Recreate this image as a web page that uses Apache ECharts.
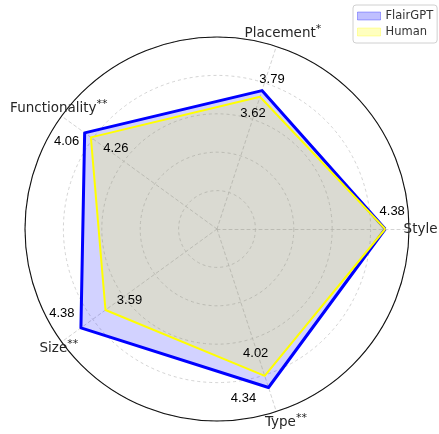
<!DOCTYPE html>
<html>
<head>
<meta charset="utf-8">
<script src="https://cdn.jsdelivr.net/npm/echarts@6/dist/echarts.min.js"></script>
<style>
  html, body { margin: 0; padding: 0; background: #fff; }
  #chart { width: 439px; height: 434px; }
</style>
</head>
<body>
<div id="chart"></div>
<script>
// categories and values
const indicators = ['Style', 'Placement', 'Functionality', 'Size', 'Type']
const significance = ['', '*', '**', '**', '**']
const flairGPT = [4.38, 3.79, 4.26, 4.38, 4.34]
const human = [4.38, 3.62, 4.06, 3.59, 4.02]
// value labels as printed on the figure
const flairLabels = ['4.38', '3.79', '4.06', '4.38', '4.34']
const humanLabels = ['', '3.62', '4.26', '3.59', '4.02']
const maxScore = 5

// label nudges (px) from each vertex
const flairLabelOffset = [[7, -18], [10, -11], [-18, 9], [-19, -14], [-25, 11]]
const humanLabelOffset = [[0, 0], [-7, 17], [25, 11], [24, -10], [-9, -22]]
const nameRadius = 5.3
const nameOffset = [[0, 0], [3, -1.5], [6.5, -0.5], [6.5, 0], [6, 0]]

const chart = echarts.init(document.getElementById('chart'))

const radarBase = {
  center: [217, 229],
  radius: 192,
  startAngle: 0,
  shape: 'circle',
  indicator: indicators.map(name => ({ name, min: 0, max: maxScore })),
  axisName: { show: false },
  splitArea: { show: false },
  axisTick: { show: false },
  axisLabel: { show: false }
}

const option = {
  animation: false,
  backgroundColor: '#fff',
  legend: {
    orient: 'vertical',
    left: 353,
    top: 5,
    padding: [5, 4, 5, 4],
    itemWidth: 23,
    itemHeight: 8,
    itemGap: 4,
    backgroundColor: '#fff',
    borderColor: '#d0d0d0',
    borderWidth: 1,
    borderRadius: 3,
    textStyle: { fontFamily: 'DejaVu Sans', fontSize: 11.5, color: '#333' },
    data: [
      { name: 'FlairGPT', icon: 'rect', itemStyle: { color: 'rgba(0,0,255,0.25)', borderColor: 'rgba(0,0,255,0.3)', borderWidth: 1 } },
      { name: 'Human', icon: 'rect', itemStyle: { color: 'rgba(255,255,0,0.25)', borderColor: 'rgba(255,255,0,0.3)', borderWidth: 1 } }
    ]
  },
  radar: [
    Object.assign({}, radarBase, {
      splitNumber: 5,
      axisLine: { lineStyle: { color: '#c8c8c8', width: 0.8, type: [3, 3] } },
      splitLine: { lineStyle: { color: '#c8c8c8', width: 0.8, type: [3, 3] } }
    }),
    Object.assign({}, radarBase, {
      splitNumber: 1,
      axisLine: { show: false },
      splitLine: { lineStyle: { color: '#111', width: 1.1, type: 'solid' } }
    })
  ],
  series: [
    {
      type: 'radar',
      radarIndex: 0,
      symbol: 'none',
      data: [{
        name: 'FlairGPT',
        value: flairGPT,
        lineStyle: { color: '#0000ff', width: 3 },
        areaStyle: { color: 'rgba(0,0,255,0.25)' },
        itemStyle: { color: 'rgba(0,0,255,0.25)' }
      }]
    },
    {
      type: 'radar',
      radarIndex: 0,
      symbol: 'none',
      data: [{
        name: 'Human',
        value: human,
        lineStyle: { color: '#ffff00', width: 2 },
        areaStyle: { color: 'rgba(255,255,0,0.25)' },
        itemStyle: { color: 'rgba(255,255,0,0.25)' }
      }]
    }
  ]
}

chart.setOption(option)

// place texts through the radar coordinate system
const radarCoord = chart.getModel().getComponent('radar', 0).coordinateSystem
const graphics = []

indicators.forEach((name, i) => {
  const p = radarCoord.dataToPoint(nameRadius, i)
  const mark = significance[i] ? '{s|' + significance[i] + '}' : ''
  graphics.push({
    type: 'text',
    x: p[0] + nameOffset[i][0],
    y: p[1] + nameOffset[i][1],
    style: {
      text: '{m|' + name + '}' + mark,
      align: 'center',
      verticalAlign: 'middle',
      fill: '#262626',
      rich: {
        m: { fontFamily: 'DejaVu Sans', fontSize: 13.5, lineHeight: 20, fill: '#262626' },
        s: { fontFamily: 'DejaVu Sans', fontSize: 11, lineHeight: 11, verticalAlign: 'top', fill: '#262626' }
      }
    }
  })
})

const addValueLabels = (values, labels, offsets) => {
  values.forEach((v, i) => {
    if (!labels[i]) return
    const p = radarCoord.dataToPoint(v, i)
    graphics.push({
      type: 'text',
      x: p[0] + offsets[i][0],
      y: p[1] + offsets[i][1],
      z: 10,
      style: {
        text: labels[i],
        align: 'center',
        verticalAlign: 'middle',
        fill: '#000',
        fontFamily: 'Liberation Sans',
        fontSize: 13
      }
    })
  })
}
addValueLabels(flairGPT, flairLabels, flairLabelOffset)
addValueLabels(human, humanLabels, humanLabelOffset)

chart.setOption({ graphic: graphics })

window.addEventListener('resize', () => chart.resize())
</script>
</body>
</html>
